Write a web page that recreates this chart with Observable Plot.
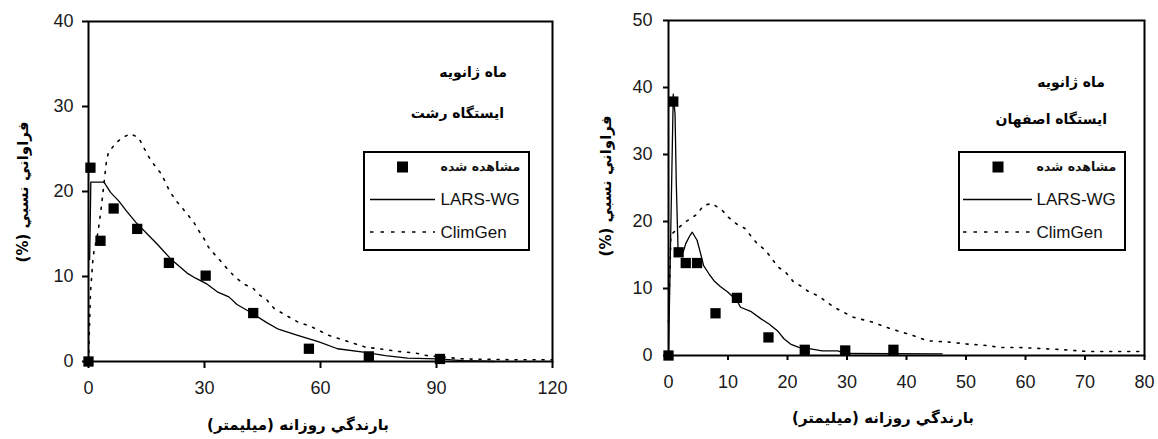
<!DOCTYPE html>
<html><head><meta charset="utf-8">
<script src="https://cdn.jsdelivr.net/npm/d3@7"></script>
<script src="https://cdn.jsdelivr.net/npm/@observablehq/plot@0.6"></script>
<style>
body{margin:0;background:#fff;}
#wrap{position:relative;width:1158px;height:439px;overflow:hidden;background:#fff;}
.panel{position:absolute;top:0;width:579px;height:439px;}
.fa{position:absolute;font-family:"DejaVu Sans",sans-serif;font-weight:bold;white-space:nowrap;direction:rtl;color:#000;line-height:1;}
.legend{position:absolute;border:2.5px solid #000;box-sizing:border-box;background:#fff;}
.legend svg{position:absolute;left:0;top:0;}
.legend .lt{position:absolute;font-family:"Liberation Sans",Arial,sans-serif;font-size:17px;white-space:nowrap;line-height:1;color:#111;}
.legend .lf{position:absolute;font-family:"DejaVu Sans",sans-serif;font-weight:bold;font-size:12.5px;white-space:nowrap;line-height:1;direction:rtl;color:#111;}
</style></head>
<body><div id="wrap"></div>
<script>
// ---------- Data ----------
// Tick labels
const rashtXTicks = [0, 30, 60, 90, 120];
const rashtYTicks = [0, 10, 20, 30, 40];
const isfXTicks = [0, 10, 20, 30, 40, 50, 60, 70, 80];
const isfYTicks = [0, 10, 20, 30, 40, 50];

// Text
const seriesNames = ["مشاهده شده", "LARS-WG", "ClimGen"];
const monthLabel = "ماه ژانويه";
const rashtStation = "ايستگاه رشت";
const isfStation = "ايستگاه اصفهان";
const yLabel = "فراواني نسبي (%)";
const xLabel = "بارندگي روزانه (ميليمتر)";

// Rasht (left panel)
const rashtObsX = [0, 0.5, 3.1, 6.5, 12.6, 20.8, 30.3, 42.6, 57, 72.5, 90.9];
const rashtObsY = [0, 22.8, 14.2, 18.0, 15.6, 11.6, 10.1, 5.7, 1.5, 0.6, 0.3];
const rashtLarsX = [0.3, 0.6, 4, 5.7, 7.8, 10, 12.2, 15.2, 17.8, 21.2, 25.5, 27.7, 30.7, 33.3, 36.3, 38.4, 41.9, 46, 49.1, 53.9, 59.6, 64.4, 71.1, 76.8, 82.5, 90.2, 96.8, 105];
const rashtLarsY = [12, 21.1, 21.1, 19.9, 18.9, 17.6, 16.4, 15.0, 13.8, 12.1, 10.4, 9.8, 9.1, 8.2, 7.6, 6.7, 5.8, 4.6, 3.8, 3.1, 2.3, 1.5, 1.1, 0.7, 0.4, 0.3, 0.1, 0];
const rashtClimX = [0, 0.5, 1.1, 1.4, 2.5, 3.1, 3.5, 4.6, 5.1, 7, 9, 10.9, 13, 15.4, 16.9, 18.6, 19.9, 20.9, 22.5, 24, 27.2, 28.5, 29.8, 31.1, 32.8, 34.6, 35.9, 38, 40.2, 42.6, 44.3, 46.2, 48.1, 54.3, 57.2, 62, 71.6, 76.8, 79.8, 84.6, 87.4, 97, 103, 110.4, 120];
const rashtClimY = [0, 8, 11.8, 12.9, 15.3, 17.4, 18.9, 23.4, 24.5, 25.7, 26.4, 26.8, 26.3, 24.2, 23.2, 22.2, 21.1, 20.1, 19.0, 18.2, 16.4, 15.4, 14.5, 13.4, 12.5, 11.6, 10.9, 9.9, 9.1, 8.6, 7.8, 7.2, 6.2, 4.6, 4.2, 3.1, 1.7, 1.4, 1.2, 1.0, 0.7, 0.3, 0.25, 0.2, 0.2];

// Isfahan (right panel)
const isfObsX = [0, 0.8, 1.7, 2.9, 4.8, 7.9, 11.5, 16.8, 22.9, 29.7, 37.8];
const isfObsY = [0, 37.9, 15.4, 13.8, 13.8, 6.3, 8.6, 2.7, 0.85, 0.75, 0.85];
const isfLarsX = [0, 0.8, 1.1, 1.3, 1.6, 2.5, 2.9, 3.6, 4.0, 4.8, 5.4, 5.9, 6.8, 7.6, 8.7, 9.9, 11.5, 12.1, 13.8, 15.5, 16.9, 18.3, 19.4, 20.5, 21.9, 23.9, 25.8, 28.5, 29.5, 46];
const isfLarsY = [0, 39, 36, 26, 16, 15.5, 16.7, 17.9, 18.4, 17.2, 15.2, 13.4, 12.2, 11.2, 10.3, 9.5, 8.2, 7.2, 6.6, 5.5, 4.7, 3.7, 2.5, 1.7, 1.2, 1.0, 0.7, 0.7, 0.3, 0.25];
const isfClimX = [0, 0.4, 2, 2.9, 3.7, 4.8, 5.9, 7.3, 9, 10.1, 11.5, 12.8, 14.8, 16.3, 17.5, 18.3, 19.8, 21.1, 22.4, 23.6, 25.2, 27.8, 31.1, 34.2, 37.3, 40.7, 43.5, 47.2, 50.3, 53.4, 55.8, 58.9, 65.7, 70.6, 75, 80];
const isfClimY = [5, 18, 19.3, 20, 20.4, 21.1, 22.4, 22.7, 21.7, 20.6, 19.6, 19.0, 16.8, 15.7, 14.3, 13.3, 12.3, 10.9, 10.3, 9.5, 8.9, 7.2, 5.7, 5.0, 4.0, 3.1, 2.2, 2.0, 1.7, 1.5, 1.2, 1.2, 0.9, 0.6, 0.6, 0.6];

// ---------- Build ----------
const pts = (xs, ys) => xs.map((x, i) => ({x, y: ys[i]}));
const wrap = document.getElementById("wrap");

function chart(cfg) {
  return Plot.plot({
    width: 579, height: 439,
    marginLeft: cfg.ml, marginRight: cfg.mr, marginTop: cfg.mt, marginBottom: cfg.mb,
    style: {fontFamily: "'Liberation Sans', Arial, sans-serif", fontSize: "18px", color: "#1a1a1a", background: "transparent", overflow: "visible"},
    x: {domain: cfg.xDomain}, y: {domain: cfg.yDomain},
    marks: [
      Plot.line(cfg.clim, {x: "x", y: "y", stroke: "#000", strokeWidth: 1.6, strokeDasharray: "2,7"}),
      Plot.line(cfg.lars, {x: "x", y: "y", stroke: "#000", strokeWidth: 1.3}),
      Plot.frame({stroke: "#000", strokeWidth: 2}),
      Plot.axisX({ticks: cfg.xTicks, tickSize: cfg.xts, tickPadding: cfg.xtp, label: null, stroke: "#000", strokeWidth: 2, tickFormat: d => String(d)}),
      Plot.axisY({ticks: cfg.yTicks, tickSize: cfg.yts, tickPadding: cfg.ytp, label: null, stroke: "#000", strokeWidth: 2, tickFormat: d => String(d)}),
      Plot.dot(cfg.obs, {x: "x", y: "y", symbol: "square", r: 5.8, fill: "#000", stroke: null})
    ]
  });
}

function panel(left, svg) {
  const d = document.createElement("div");
  d.className = "panel"; d.style.left = left + "px";
  d.appendChild(svg); wrap.appendChild(d);
}

function faText(txt, cx, cy, size, rotate) {
  const d = document.createElement("div");
  d.className = "fa"; d.textContent = txt;
  d.style.fontSize = size + "px";
  d.style.left = cx + "px"; d.style.top = cy + "px";
  d.style.transform = "translate(-50%,-50%)" + (rotate ? " rotate(-90deg)" : "");
  wrap.appendChild(d);
}

// right-aligned text inside a fixed box ending at `right`
function faRight(txt, right, cy, size) {
  const d = document.createElement("div");
  d.className = "fa"; d.textContent = txt;
  d.style.fontSize = size + "px";
  d.style.left = (right - 200) + "px"; d.style.width = "200px";
  d.style.textAlign = "right";
  d.style.top = cy + "px";
  d.style.transform = "translateY(-50%)";
  wrap.appendChild(d);
}

function legend(left, top, w, h, sqx, lx0, lx1, tx) {
  const d = document.createElement("div");
  d.className = "legend";
  Object.assign(d.style, {left: left + "px", top: top + "px", width: w + "px", height: h + "px"});
  const ns = "http://www.w3.org/2000/svg";
  const s = document.createElementNS(ns, "svg");
  s.setAttribute("width", w); s.setAttribute("height", h);
  s.style.left = "-2.5px"; s.style.top = "-2.5px";
  const sq = document.createElementNS(ns, "rect");
  Object.entries({x: sqx - 5.5, y: 16 - 5.5, width: 11, height: 11, fill: "#000"}).forEach(([k, v]) => sq.setAttribute(k, v));
  const l1 = document.createElementNS(ns, "line");
  Object.entries({x1: lx0, x2: lx1, y1: 48.5, y2: 48.5, stroke: "#000", "stroke-width": 1.3}).forEach(([k, v]) => l1.setAttribute(k, v));
  const l2 = document.createElementNS(ns, "line");
  Object.entries({x1: lx0, x2: lx1, y1: 81, y2: 81, stroke: "#000", "stroke-width": 1.7, "stroke-dasharray": "3.5,7"}).forEach(([k, v]) => l2.setAttribute(k, v));
  s.append(sq, l1, l2);
  d.appendChild(s);
  const ys = [16, 48.5, 81];
  seriesNames.forEach((n, i) => {
    const t = document.createElement("span");
    t.className = i === 0 ? "lf" : "lt";
    t.textContent = n;
    t.style.left = (tx - 2.5) + "px";
    t.style.top = (ys[i] - 2.5) + "px";
    t.style.transform = "translateY(-50%)";
    d.appendChild(t);
  });
  wrap.appendChild(d);
}

panel(0, chart({
  ml: 88, mr: 27, mt: 21, mb: 78,
  xDomain: [0, 120], yDomain: [0, 40], xTicks: rashtXTicks, yTicks: rashtYTicks,
  xts: 7, xtp: 13, yts: 6, ytp: 9,
  obs: pts(rashtObsX, rashtObsY), lars: pts(rashtLarsX, rashtLarsY), clim: pts(rashtClimX, rashtClimY)
}));
panel(579, chart({
  ml: 89, mr: 14, mt: 20, mb: 84,
  xDomain: [0, 80], yDomain: [0, 50], xTicks: isfXTicks, yTicks: isfYTicks,
  xts: 5, xtp: 15, yts: 5, ytp: 11,
  obs: pts(isfObsX, isfObsY), lars: pts(isfLarsX, isfLarsY), clim: pts(isfClimX, isfClimY)
}));

// axis titles
faText(yLabel, 23, 192, 15, true);
faText(yLabel, 606, 186, 15, true);
faText(xLabel, 298, 425, 15, false);
faText(xLabel, 883, 418, 15, false);
// annotations
faRight(monthLabel, 507, 72, 14);
faRight(rashtStation, 504, 113, 14);
faRight(monthLabel, 1105, 82, 14);
faRight(isfStation, 1107, 119, 14);
// legends
legend(363, 151, 167, 100, 39.5, 7, 72, 78);
legend(958, 151, 168, 100, 40, 5, 74, 79);
</script>
</body></html>
